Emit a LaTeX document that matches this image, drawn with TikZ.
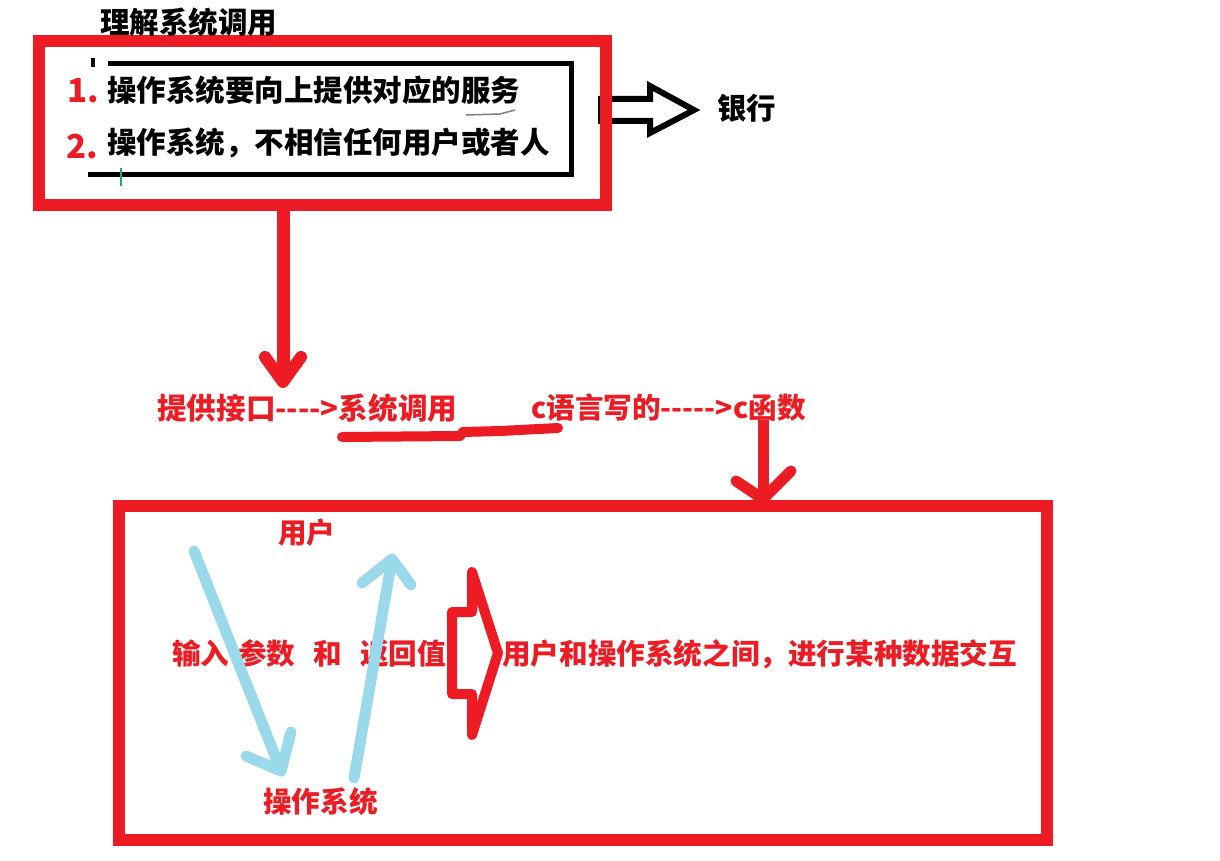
\documentclass[tikz,border=0pt]{standalone}
\usepackage{fontspec}
\newfontfamily\cjk{Noto Sans CJK SC}
\definecolor{pred}{RGB}{237,28,36}
\definecolor{pblue}{RGB}{153,217,234}
\definecolor{pgreen}{RGB}{40,170,90}
\begin{document}
\begin{tikzpicture}[x=1pt,y=-1pt,
  txt/.style={font=\cjk\bfseries\fontsize{29.5}{31}\selectfont, inner sep=0pt, anchor=west, text=black},
  redtxt/.style={txt, text=pred, font=\cjk\bfseries\fontsize{28.6}{30}\selectfont},
  numtxt/.style={txt, text=pred, font=\cjk\bfseries\fontsize{33}{34}\selectfont},
  redframe/.style={draw=pred, line width=12pt},
  redstroke/.style={draw=pred, line width=12pt, line cap=round, line join=round},
  bluestroke/.style={draw=pblue, line width=11pt, line cap=round, line join=round},
  blackline/.style={draw=black, line width=5pt}]
\useasboundingbox (0,0) rectangle (1220,861);

% coordinates
\coordinate (b1nw) at (39,41);
\coordinate (b1se) at (606,205);
\coordinate (b2nw) at (119,506);
\coordinate (b2se) at (1047,840);

% black inner box (three sides)
\draw[blackline] (108,64) -- (571,64) -- (571,175) -- (88,175);
\draw[black, line width=4pt] (93,58) -- (93,67);
\draw[gray, line width=1.5pt] (466,115) -- (500,114) -- (515,110);
\draw[pgreen, line width=1.5pt] (121,168) -- (121,186);

% hollow black arrow to bank
\draw[black, line width=6pt, fill=white, line join=miter]
  (601,99) -- (650,99) -- (650,86) -- (694,110) -- (650,133) -- (650,121) -- (601,121) -- cycle;

% red frames
\draw[redframe] (b1nw) rectangle (b1se);
\draw[redframe] (b2nw) rectangle (b2se);

% texts
\node[txt] (title) at (100,22) {理解系统调用};
\node[numtxt] (n1) at (67,91) {1.};
\node[numtxt] (n2) at (66,147) {2.};
\node[txt] (l1) at (107,90) {操作系统要向上提供对应的服务};
\node[txt] (l2) at (107,143) {操作系统，不相信任何用户或者人};
\node[txt] (bank) at (717,108) {银行};
\node[redtxt, font=\cjk\bfseries\fontsize{29.6}{31}\selectfont] (iface) at (157,408) {提供接口---->系统调用};
\node[redtxt] (cfunc) at (531,408) {c语言写的----->c函数};
\node[redtxt] (user) at (278,533) {用户};
\node[redtxt] (params) at (172,653) {输入\hspace{9pt}参数\hspace{18pt}和\hspace{18pt}返回值};
\node[redtxt] (os) at (263,802) {操作系统};
\node[redtxt] (inter) at (502,654) {用户和操作系统之间，进行某种数据交互};

% red arrow from box 1 down
\coordinate (a1s) at (283,205);
\coordinate (a1e) at (283,382);
\draw[draw=pred, line width=13pt] (a1s) -- (a1e);
\draw[redstroke] (265,357) -- (a1e) -- (301,357);

% underline scribble
\draw[draw=pred, line width=10pt, line cap=round, line join=round]
  (342,437) -- (460,436) -- (463,432) -- (500,431) -- (558,428);

% red arrow from c函数 down into box 2
\coordinate (a2s) at (763,420);
\coordinate (a2e) at (763,499);
\draw[draw=pred, line width=11pt] (a2s) -- (a2e);
\draw[draw=pred, line width=11pt, line cap=round, line join=round] (736,481) -- (a2e) -- (791,471);

% red hollow arrow
\draw[draw=pred, line width=10pt, line join=round]
  (452,612) -- (472,612) -- (472,572) -- (498,653) -- (472,735) -- (472,694) -- (452,694) -- cycle;

% blue arrows
\coordinate (d1) at (194,551);
\coordinate (d2) at (281,771);
\draw[bluestroke] (d1) -- (d2);
\draw[bluestroke] (246,756) -- (d2) -- (291,732);
\coordinate (u1) at (354,778);
\coordinate (u2) at (392,559);
\draw[bluestroke] (u1) -- (u2);
\draw[bluestroke] (362,583) -- (u2) -- (411,585);
\end{tikzpicture}
\end{document}
